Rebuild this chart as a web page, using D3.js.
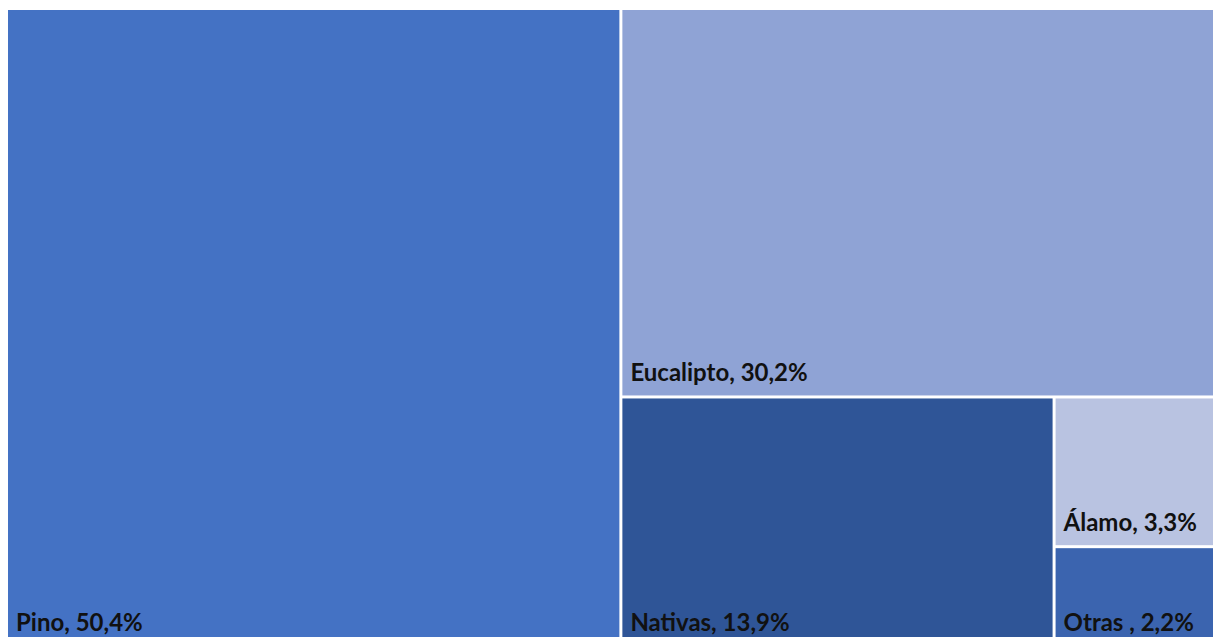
<!DOCTYPE html>
<html>
<head>
<meta charset="utf-8">
<script src="https://cdn.jsdelivr.net/npm/d3@7"></script>
<style>
  body { margin: 0; background: #fff; }
  svg { display: block; }
</style>
</head>
<body>
<svg id="place" width="1213" height="637"></svg>
<script>
var species = ["Pino", "Eucalipto", "Nativas", "Álamo", "Otras "];
var shares = [50.4, 30.2, 13.9, 3.3, 2.2];
var colors = ["#4472C4", "#8FA3D5", "#2F5597", "#B9C3E1", "#3B64AF"];

var svg = d3.select("#place");

// the plot area runs a bit past the bottom and right edges of the picture
var root = d3.hierarchy({
        children: species.map(function(s, i) {
            return {name: s, value: shares[i], color: colors[i]};
        })
    })
    .sum(function(d) { return d.value || 0; });

d3.treemap()
    .tile(d3.treemapSquarify.ratio(1))
    .size([1216, 635])
    .paddingInner(3)
    .round(false)(root);

var leaf = svg.append("g")
    .attr("transform", "translate(8,10)")
    .selectAll("g")
    .data(root.leaves())
    .join("g")
    .attr("transform", function(d) { return "translate(" + d.x0 + "," + d.y0 + ")"; });

leaf.append("rect")
    .attr("width", function(d) { return d.x1 - d.x0; })
    .attr("height", function(d) { return d.y1 - d.y0; })
    .attr("fill", function(d) { return d.data.color; });

var fmt = function(v) { return d3.format(".1f")(v).replace(".", ",") + "%"; };

leaf.append("text")
    .attr("x", 8)
    .attr("y", function(d) { return d.y1 - d.y0 - 14; })
    .style("font-family", "Lato, 'Liberation Sans', sans-serif")
    .style("font-weight", "bold")
    .style("font-size", "24px")
    .attr("fill", "#111")
    .text(function(d) { return d.data.name + ", " + fmt(d.data.value); });
</script>
</body>
</html>
